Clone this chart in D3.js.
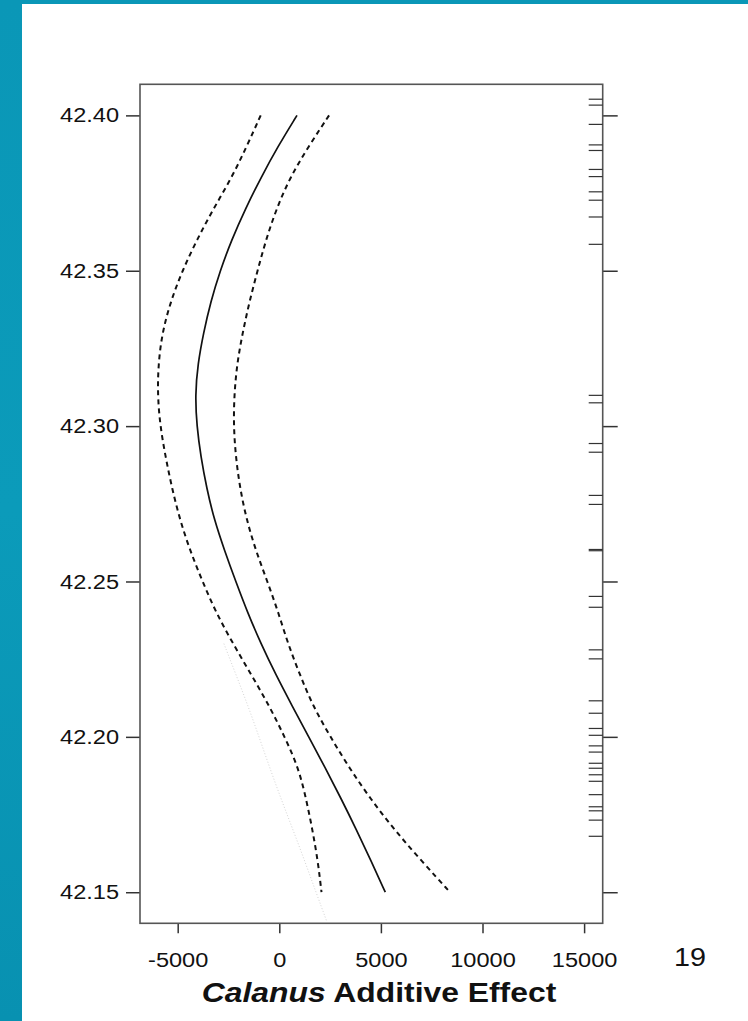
<!DOCTYPE html>
<html>
<head>
<meta charset="utf-8">
<script src="https://cdn.jsdelivr.net/npm/d3@7"></script>
<style>
  body { margin: 0; background: #fff; }
  svg { display: block; font-family: 'Liberation Sans', Arial, Helvetica, sans-serif; }
</style>
</head>
<body>
<svg id="chart" width="748" height="1021"></svg>
<script>
// latitude grid (y) and the smooth term with its bands (x)
const lat = [42.40, 42.39, 42.38, 42.37, 42.36, 42.35, 42.34, 42.33, 42.32, 42.31,
  42.30, 42.29, 42.28, 42.27, 42.26, 42.25, 42.24, 42.23, 42.22, 42.21,
  42.20, 42.19, 42.18, 42.17, 42.16, 42.15];
const fit = [871, -69, -901, -1663, -2342, -2913, -3376, -3730, -4010, -4140,
  -4060, -3858, -3573, -3208, -2697, -2141, -1560, -905, -172, 630,
  1447, 2264, 3051, 3804, 4522, 5216];
const lower = [-915, -1604, -2337, -3238, -4050, -4773, -5354, -5763, -5954, -5990,
  -5861, -5595, -5280, -4896, -4394, -3779, -3115, -2278, -1378, -497,
  266, 945, 1324, 1634, 1900, 2077];
const upper = [2450, 1437, 527, -138, -654, -1073, -1471, -1806, -2082, -2219,
  -2249, -2141, -1934, -1614, -1161, -586, -44, 423, 1014, 1649,
  2515, 3445, 4493, 5674, 7012, 8400];

// faint dotted trace near the bottom
const faintLat = [42.23, 42.22, 42.21, 42.20, 42.19, 42.18, 42.17, 42.16, 42.15, 42.1406];
const faint = [-2726, -2131, -1540, -999, -467, 89, 679, 1255, 1806, 2337];

// rug of observed latitudes
const rugLat = [42.4052, 42.4033, 42.3971, 42.3905, 42.3887, 42.3826, 42.3803, 42.3754,
  42.3727, 42.3673, 42.3585, 42.3099, 42.3075, 42.2944, 42.2916, 42.2777, 42.2748,
  42.2603, 42.2599, 42.2452, 42.2417, 42.2280, 42.2251, 42.2116, 42.2076, 42.2027,
  42.2005, 42.1971, 42.1951, 42.1915, 42.1899, 42.1878, 42.1857, 42.1814, 42.1775,
  42.1762, 42.1732, 42.1680];

const xTicks = [-5000, 0, 5000, 10000, 15000];
const yTicks = [42.15, 42.20, 42.25, 42.30, 42.35, 42.40];
const xTitleItalic = 'Calanus';
const xTitleRest = ' Additive Effect';
const pageNumber = '19';

const svg = d3.select('#chart');
const stretch = 1.15;

// slide background
const grad = svg.append('defs').append('linearGradient')
  .attr('id', 'teal')
  .attr('x1', 0).attr('y1', 0).attr('x2', 0).attr('y2', 1);
grad.append('stop').attr('offset', '0%').attr('stop-color', '#0a97b7');
grad.append('stop').attr('offset', '50%').attr('stop-color', '#0b9bba');
grad.append('stop').attr('offset', '100%').attr('stop-color', '#0891b1');
svg.append('rect').attr('width', 748).attr('height', 1021).attr('fill', 'url(#teal)');
svg.append('rect').attr('x', 22).attr('y', 4).attr('width', 726).attr('height', 1017).attr('fill', '#fff');

const frame = { left: 140, right: 602.7, top: 84.3, bottom: 923.3 };

const x = d3.scaleLinear().domain([-6855, 15915]).range([frame.left, frame.right]);
const y = d3.scaleLinear().domain([42.14, 42.41]).range([frame.bottom, frame.top]);

const widen = (sel) => {
  sel.each(function () {
    const t = d3.select(this);
    const tx = +t.attr('x') || 0;
    const ty = +t.attr('y') || 0;
    t.attr('x', null).attr('y', null)
      .attr('transform', `translate(${tx},${ty}) scale(${stretch},1)`);
  });
};

// axes (plain hyphen for negatives, as in the R output)
const xAxis = svg.append('g')
  .attr('transform', `translate(0,${frame.bottom})`)
  .call(d3.axisBottom(x).tickValues(xTicks).tickSize(10).tickPadding(19).tickFormat((d) => String(d)));
const yAxis = svg.append('g')
  .attr('transform', `translate(${frame.left},0)`)
  .call(d3.axisLeft(y).tickValues(yTicks).tickSize(14).tickPadding(7).tickFormat((d) => d.toFixed(2)));
const rAxis = svg.append('g')
  .attr('transform', `translate(${frame.right},0)`)
  .call(d3.axisRight(y).tickValues(yTicks).tickSize(15).tickFormat(''));

[xAxis, yAxis, rAxis].forEach((a) => {
  a.select('.domain').remove();
  a.selectAll('line').attr('stroke', '#333').attr('stroke-width', 1.5);
  a.selectAll('text')
    .attr('fill', '#111')
    .style('font-size', '20.5px')
    .call(widen);
});

// frame
svg.append('rect')
  .attr('x', frame.left).attr('y', frame.top)
  .attr('width', frame.right - frame.left).attr('height', frame.bottom - frame.top)
  .attr('fill', 'none').attr('stroke', '#555').attr('stroke-width', 1.6);

// curves
const line = d3.line()
  .x((d) => x(d[1]))
  .y((d) => y(d[0]))
  .curve(d3.curveBasis);

svg.append('path')
  .attr('d', line(d3.zip(faintLat, faint)))
  .attr('fill', 'none').attr('stroke', '#d4d4d4').attr('stroke-width', 1)
  .attr('stroke-dasharray', '1,2');

svg.append('path')
  .attr('d', line(d3.zip(lat, lower)))
  .attr('fill', 'none').attr('stroke', '#111').attr('stroke-width', 2)
  .attr('stroke-dasharray', '5,4');

svg.append('path')
  .attr('d', line(d3.zip(lat, upper)))
  .attr('fill', 'none').attr('stroke', '#111').attr('stroke-width', 2)
  .attr('stroke-dasharray', '5,4');

svg.append('path')
  .attr('d', line(d3.zip(lat, fit)))
  .attr('fill', 'none').attr('stroke', '#111').attr('stroke-width', 1.7);

// rug
svg.append('g')
  .selectAll('line')
  .data(rugLat)
  .join('line')
  .attr('x1', frame.right - 14)
  .attr('x2', frame.right)
  .attr('y1', (d) => y(d))
  .attr('y2', (d) => y(d))
  .attr('stroke', '#333')
  .attr('stroke-width', 1.2);

// axis title
const title = svg.append('text')
  .attr('text-anchor', 'middle')
  .attr('transform', 'translate(379,1002) scale(1.18,1)')
  .style('font-size', '27px')
  .style('font-weight', 'bold')
  .attr('fill', '#111');
title.append('tspan').style('font-style', 'italic').text(xTitleItalic);
title.append('tspan').text(xTitleRest);

// slide page number
svg.append('text')
  .attr('text-anchor', 'middle')
  .attr('transform', `translate(690,966) scale(${stretch},1)`)
  .style('font-size', '25px')
  .attr('fill', '#111')
  .text(pageNumber);
</script>
</body>
</html>
